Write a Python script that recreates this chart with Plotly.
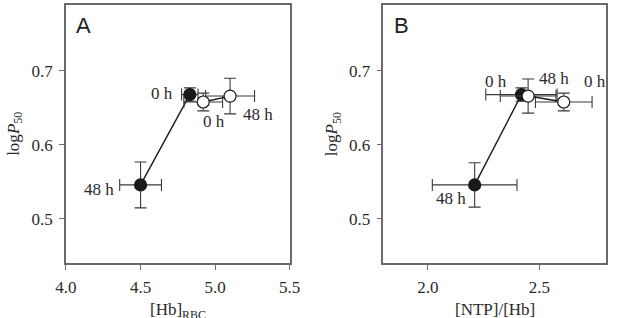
import plotly.graph_objects as go

# ---------------- data ----------------
time_labels = ["0 h", "48 h"]

# Panel A: [Hb]RBC vs logP50
a_x_filled = [4.83, 4.50]
a_y_filled = [0.668, 0.546]
a_xerr_filled = [0.055, 0.14]
a_yerr_filled = [0.009, 0.031]

a_x_open = [4.92, 5.10]
a_y_open = [0.658, 0.666]
a_xerr_open = [0.13, 0.164]
a_yerr_open = [0.012, 0.024]

# Panel B: [NTP]/[Hb] vs logP50
b_x_filled = [2.42, 2.21]
b_y_filled = [0.668, 0.546]
b_xerr_filled = [0.16, 0.19]
b_yerr_filled = [0.009, 0.030]

b_x_open = [2.61, 2.45]
b_y_open = [0.658, 0.666]
b_xerr_open = [0.127, 0.125]
b_yerr_open = [0.012, 0.023]

a_xticks = [4.0, 4.5, 5.0, 5.5]
b_xticks = [2.0, 2.5]
y_ticks = [0.5, 0.6, 0.7]

# ---------------- styling ----------------
SERIF = "Times New Roman, Liberation Serif, Times, serif"
FRAME = "#6a6a6a"
ERR = "#3a3a3a"
TXT = "#2a2a2a"
FS = 17

fig = go.Figure()


def add_series(x, y, xe, ye, filled, xa, ya):
    fig.add_trace(go.Scatter(
        x=x, y=y, xaxis=xa, yaxis=ya, mode="lines+markers",
        line=dict(color="#1a1a1a", width=1.4),
        marker=dict(size=12, symbol="circle",
                    color="#1a1a1a" if filled else "white",
                    line=dict(color="#1a1a1a", width=1.2)),
        error_x=dict(type="data", array=xe, visible=True, color=ERR, thickness=1.1, width=6),
        error_y=dict(type="data", array=ye, visible=True, color=ERR, thickness=1.1, width=6),
        showlegend=False, hoverinfo="skip"))


add_series(a_x_filled, a_y_filled, a_xerr_filled, a_yerr_filled, True, "x", "y")
add_series(a_x_open, a_y_open, a_xerr_open, a_yerr_open, False, "x", "y")
add_series(b_x_filled, b_y_filled, b_xerr_filled, b_yerr_filled, True, "x2", "y2")
add_series(b_x_open, b_y_open, b_xerr_open, b_yerr_open, False, "x2", "y2")

annotations = []


def lab(text, x, y, xr, yr, xanchor, xshift, yshift):
    annotations.append(dict(text=text, x=x, y=y, xref=xr, yref=yr, showarrow=False,
                            xanchor=xanchor, yanchor="middle", xshift=xshift, yshift=yshift,
                            font=dict(family=SERIF, size=FS, color=TXT)))


# Panel A point labels
lab(time_labels[0], a_x_filled[0], a_y_filled[0], "x", "y", "right", -15, 1)
lab(time_labels[1], a_x_filled[1], a_y_filled[1], "x", "y", "right", -25, -5)
lab(time_labels[0], a_x_open[0], a_y_open[0], "x", "y", "center", 11, -20)
lab(time_labels[1], a_x_open[1], a_y_open[1], "x", "y", "left", 11, -18)

# Panel B point labels
lab(time_labels[0], b_x_filled[0], b_y_filled[0], "x2", "y2", "center", -25, 13)
lab(time_labels[1], b_x_open[1], b_y_open[1], "x2", "y2", "left", 9, 18)
lab(time_labels[0], b_x_open[0], b_y_open[0], "x2", "y2", "center", 31, 20)
lab(time_labels[1], b_x_filled[1], b_y_filled[1], "x2", "y2", "center", -24, -14)

# Panel letters
annotations.append(dict(text="A", x=0.105, y=0.965, xref="paper", yref="paper", showarrow=False,
                        xanchor="left", yanchor="top",
                        font=dict(family="Liberation Sans, Arial, sans-serif", size=22, color="#222")))
annotations.append(dict(text="B", x=0.637, y=0.965, xref="paper", yref="paper", showarrow=False,
                        xanchor="left", yanchor="top",
                        font=dict(family="Liberation Sans, Arial, sans-serif", size=22, color="#222")))

# Axis titles
annotations.append(dict(text="[Hb]<sub>RBC</sub>", x=173 / 620, y=(318 - 311) / 318, xref="paper",
                        yref="paper", showarrow=False, xanchor="center", yanchor="middle",
                        font=dict(family=SERIF, size=FS, color=TXT)))
annotations.append(dict(text="[NTP]/[Hb]", x=502 / 620, y=(318 - 309) / 318, xref="paper",
                        yref="paper", showarrow=False, xanchor="center", yanchor="middle",
                        font=dict(family=SERIF, size=FS, color=TXT)))
annotations.append(dict(text="log<i>P</i><sub>50</sub>", x=4 / 620, y=(318 - 134) / 318, xref="paper",
                        yref="paper", showarrow=False, xanchor="center", yanchor="middle",
                        textangle=-90, font=dict(family=SERIF, size=FS, color=TXT)))
annotations.append(dict(text="log<i>P</i><sub>50</sub>", x=334 / 620, y=(318 - 134) / 318, xref="paper",
                        yref="paper", showarrow=False, xanchor="center", yanchor="middle",
                        textangle=-90, font=dict(family=SERIF, size=FS, color=TXT)))

axis_common = dict(showline=True, mirror=True, linecolor=FRAME, linewidth=1.5,
                   ticks="outside", ticklen=5, tickcolor=FRAME, tickwidth=1.2,
                   showgrid=False, zeroline=False, ticklabelstandoff=3,
                   tickfont=dict(family=SERIF, size=FS, color=TXT))

ydom = [(318 - 263) / 318, (318 - 5) / 318]

fig.update_layout(
    width=620, height=318,
    margin=dict(l=0, r=0, t=0, b=0),
    paper_bgcolor="white", plot_bgcolor="white",
    xaxis=dict(domain=[57 / 620, 289 / 620], range=[4.0, 5.5], tickvals=a_xticks,
               tickformat=".1f", anchor="y", **axis_common),
    yaxis=dict(domain=ydom, range=[0.4405, 0.789], tickvals=y_ticks, tickformat=".1f",
               anchor="x", **axis_common),
    xaxis2=dict(domain=[386 / 620, 617 / 620], range=[1.8, 2.8], tickvals=b_xticks,
                tickformat=".1f", anchor="y2", **axis_common),
    yaxis2=dict(domain=ydom, range=[0.4405, 0.789], tickvals=y_ticks, tickformat=".1f",
                anchor="x2", **axis_common),
    annotations=annotations,
)

fig.write_html("out.html")
